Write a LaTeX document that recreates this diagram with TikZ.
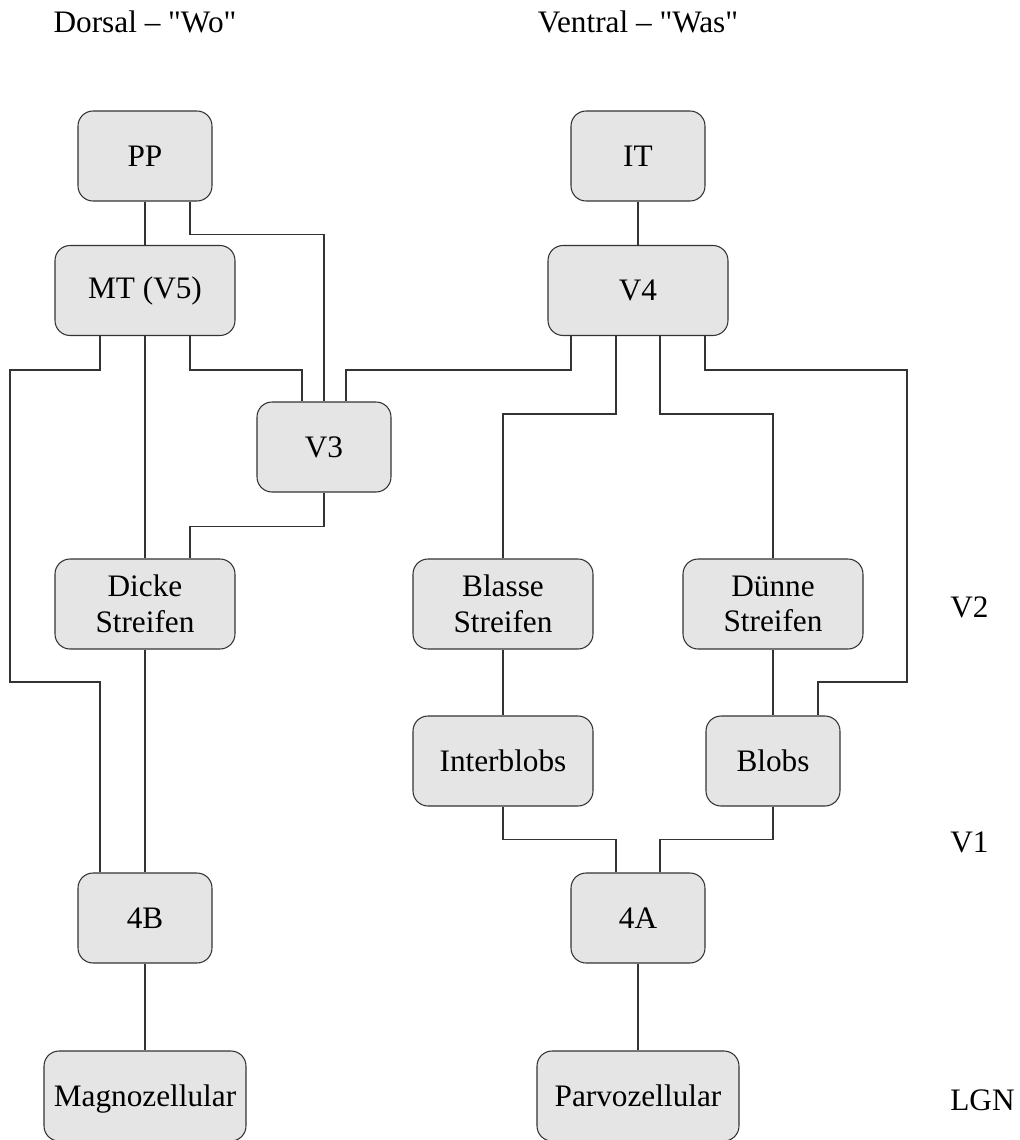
\documentclass[tikz,border=0pt]{standalone}
\usepackage{fontspec}
\setmainfont{Liberation Serif}[Ligatures=TeXOff]
\definecolor{boxgray}{RGB}{229,229,229}
\definecolor{linegray}{RGB}{51,51,51}
\tikzset{
  area/.style={draw=linegray, fill=boxgray, rounded corners=0.3cm, line width=0.6pt,
    minimum width=2.68cm, minimum height=1.8cm, inner sep=0pt, align=center,
    font=\fontsize{17.8}{20.3}\selectfont},
  widearea/.style={area, minimum width=3.6cm},
  lgnarea/.style={area, minimum width=4.04cm},
  link/.style={draw=linegray, line width=0.6pt},
  level/.style={inner sep=0pt, font=\fontsize{17.8}{20.3}\selectfont}
}
\begin{document}
\begin{tikzpicture}[x=0.02cm, y=-0.02cm]
                \useasboundingbox (0,0) rectangle (1020,1140);
                
                % Marking the two streams
                \node [level] (dorsal) at (145,22) {Dorsal – "Wo"};
                \node [level] (ventral) at (638,22) {Ventral – "Was"};
                
                % Marking the levels
                \node [level, anchor=west] (vtwo) at (950,607) {V2};
                \node [level, anchor=west] (vone) at (950,842) {V1};
                \node [level, anchor=west] (lgn) at (950,1100) {LGN};
                
                % Dorsal areas
                \node [area] (pp) at (145,156) {PP};
                \node [widearea] (mt) at (145,290.5) {MT (V5)};
                \node [area] (vthree) at (324,447) {V3};
                \node [widearea] (dicke) at (145,604) {Dicke\\Streifen};
                \node [area] (fourb) at (145,918) {4B};
                \node [lgnarea, text depth=0pt] (magno) at (145,1096) {Magnozellular};
                
                % Ventral areas
                \node [area] (it) at (638,156) {IT};
                \node [widearea] (vfour) at (638,290.5) {V4};
                \node [widearea] (blasse) at (503,604) {Blasse\\Streifen};
                \node [widearea] (duenne) at (773,604) {Dünne\\Streifen};
                \node [widearea] (interblobs) at (503,761) {Interblobs};
                \node [area] (blobs) at (773,761) {Blobs};
                \node [area] (foura) at (638,918) {4A};
                \node [lgnarea] (parvo) at (638,1096) {Parvozellular};
                
                % Drawing lines of the dorsal stream
                \draw [link] (pp.south) -- (mt.north);%
                \draw [link] ([xshift=0.9cm]pp.south) -- ++(0,33) -| (vthree.north);%
                \draw [link] ([xshift=-0.9cm]mt.south) -- ++(0,34) -| (10,682) -| ([xshift=-0.9cm]fourb.north);%
                \draw [link] (mt.south) -- (dicke.north);%
                \draw [link] ([xshift=0.9cm]mt.south) -- ++(0,34) -| ([xshift=-0.44cm]vthree.north);%
                \draw [link] (vthree.south) -- ++(0,34) -| ([xshift=0.9cm]dicke.north);%
                \draw [link] (dicke.south) -- (fourb.north);%
                \draw [link] (fourb.south) -- (magno.north);%
                
                % Drawing lines of the ventral stream
                \draw [link] (it.south) -- (vfour.north);%
                \draw [link] ([xshift=-1.34cm]vfour.south) -- ++(0,34) -| ([xshift=0.44cm]vthree.north);%
                \draw [link] ([xshift=-0.44cm]vfour.south) -- ++(0,78) -| (blasse.north);%
                \draw [link] ([xshift=0.44cm]vfour.south) -- ++(0,78) -| (duenne.north);%
                \draw [link] ([xshift=1.34cm]vfour.south) -- ++(0,34) -| (907,682) -| ([xshift=0.9cm]blobs.north);%
                \draw [link] (blasse.south) -- (interblobs.north);%
                \draw [link] (duenne.south) -- (blobs.north);%
                \draw [link] (interblobs.south) -- ++(0,33) -| ([xshift=-0.44cm]foura.north);%
                \draw [link] (blobs.south) -- ++(0,33) -| ([xshift=0.44cm]foura.north);%
                \draw [link] (foura.south) -- (parvo.north);%
\end{tikzpicture}
\end{document}
